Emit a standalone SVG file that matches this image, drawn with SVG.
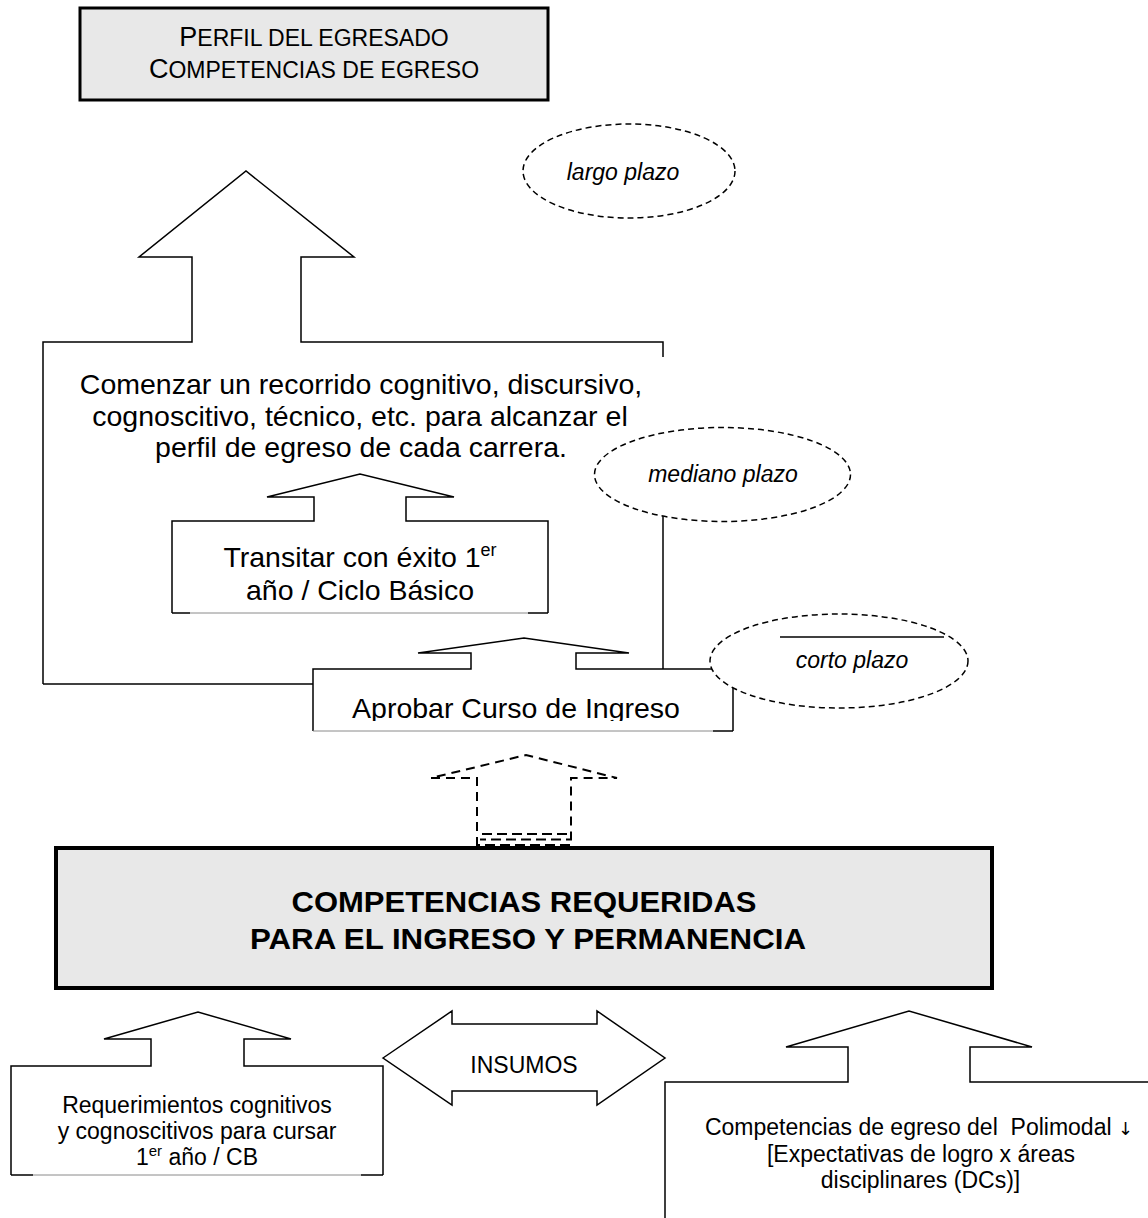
<svg xmlns="http://www.w3.org/2000/svg" width="1148" height="1218" viewBox="0 0 1148 1218">
<style>
text{font-family:"Liberation Sans",Arial,sans-serif;fill:#000}
.s{fill:none;stroke:#000;stroke-width:1.5;stroke-linejoin:miter}
.w{fill:#fff;stroke:#000;stroke-width:1.5}
.d{fill:#fff;stroke:#000;stroke-width:1.5;stroke-dasharray:6 4}
.dl{fill:none;stroke:#000;stroke-width:2;stroke-dasharray:9 6}
.hl{fill:none;stroke:#000;stroke-width:2;stroke-dasharray:10 5}
.lt{fill:none;stroke:#8a8a8a;stroke-width:1}
.g{fill:#e8e8e8;stroke:#000}
.t28{font-size:28.5px;text-anchor:middle}
.t23{font-size:23px;text-anchor:middle}
.it{font-size:23px;font-style:italic;text-anchor:middle}
</style>
<defs>
<clipPath id="clipA"><rect x="313" y="669" width="420" height="52"/></clipPath>
</defs>
<rect width="1148" height="1218" fill="#fff"/>

<g id="perfil">
<rect class="g" x="80" y="8" width="468" height="92" stroke-width="3"/>
<text x="314" y="46" text-anchor="middle"><tspan font-size="27">P</tspan><tspan font-size="23">ERFIL DEL EGRESADO</tspan></text>
<text x="314" y="77.5" text-anchor="middle"><tspan font-size="27">C</tspan><tspan font-size="23">OMPETENCIAS DE EGRESO</tspan></text>
</g>

<g id="largo">
<ellipse class="d" cx="629" cy="171" rx="106" ry="47"/>
<text class="it" x="623" y="180">largo plazo</text>
</g>

<g id="comenzar">
<path class="s" d="M43,684 V342 H192 V257 H139 L246,171 L354,257 H301 V342 H663 V357"/>
<path class="s" d="M43,684 H313"/>
<text class="t28" x="361" y="394">Comenzar un recorrido cognitivo, discursivo,</text>
<text class="t28" x="360" y="426">cognoscitivo, técnico, etc. para alcanzar el</text>
<text class="t28" x="361" y="457">perfil de egreso de cada carrera.</text>
</g>

<g id="transitar">
<path class="s" d="M172,613 V521 H314 V497 H267 L360,474 L454,497 H406 V521 H548 V613"/>
<path class="lt" d="M190,613 H528"/>
<path class="s" d="M172,613 H190 M528,613 H548"/>
<text class="t28" x="360" y="566.5">Transitar con éxito 1<tspan font-size="18" dy="-11">er</tspan></text>
<text class="t28" x="360" y="600">año / Ciclo Básico</text>
</g>

<g id="connectors">
<path class="s" d="M663,516 V669"/>
</g>

<g id="mediano">
<ellipse class="d" cx="722.5" cy="474.5" rx="128" ry="47"/>
<text class="it" x="723" y="482">mediano plazo</text>
</g>

<g id="aprobar">
<path class="s" d="M313,731 V669 H471 V653 H418 L524,638 L629,653 H576 V669 H733 V731"/>
<path class="lt" d="M313,731 H713"/>
<path class="s" d="M713,731 H733"/>
<text class="t28" x="516" y="718" clip-path="url(#clipA)">Aprobar Curso de Ingreso</text>
</g>

<g id="corto">
<ellipse class="d" cx="839" cy="661" rx="129" ry="47"/>
<path class="s" d="M780,637 H944" stroke-width="1"/>
<text class="it" x="852" y="668">corto plazo</text>
</g>

<g id="flecha-punteada">
<path class="dl" d="M477,846 V778 H431 L526,755 L617,778 H571 V846"/>
<path class="hl" d="M482,834 H569"/>
<path class="hl" d="M480,839.5 H570" stroke-dashoffset="4"/>
<path class="hl" d="M478,845 H571" stroke-dashoffset="8"/>
</g>

<g id="competencias">
<rect class="g" x="56" y="848" width="936" height="140" stroke-width="4"/>
<text x="524" y="911.5" font-size="30" font-weight="bold" text-anchor="middle" textLength="465" lengthAdjust="spacingAndGlyphs">COMPETENCIAS REQUERIDAS</text>
<text x="528" y="948.5" font-size="30" font-weight="bold" text-anchor="middle" textLength="556" lengthAdjust="spacingAndGlyphs">PARA EL INGRESO Y PERMANENCIA</text>
</g>

<g id="requerimientos">
<path class="s" d="M11,1175 V1066 H151 V1039 H104 L198,1012 L291,1039 H244 V1066 H383 V1175"/>
<path class="lt" d="M33,1175 H361"/>
<path class="s" d="M11,1175 H33 M361,1175 H383"/>
<text class="t23" x="197" y="1113">Requerimientos cognitivos</text>
<text class="t23" x="197" y="1138.5">y cognoscitivos para cursar</text>
<text class="t23" x="197" y="1165">1<tspan font-size="15" dy="-9">er</tspan><tspan dy="9"> año / CB</tspan></text>
</g>

<g id="insumos">
<polygon class="w" points="383,1058 452,1011 452,1024 597,1024 597,1011 665,1058 597,1105 597,1091 452,1091 452,1105"/>
<text class="t23" x="524" y="1072.5">INSUMOS</text>
</g>

<g id="polimodal">
<path class="s" d="M665,1218 V1082 H848 V1047 H786 L909,1011 L1032,1047 H970 V1082 H1148"/>
<text class="t23" x="919" y="1135">Competencias de egreso del&#160; Polimodal <tspan font-family="DejaVu Sans" font-size="18">↓</tspan></text>
<text class="t23" x="921" y="1161.5">[Expectativas de logro x áreas</text>
<text class="t23" x="920.5" y="1188">disciplinares (DCs)]</text>
</g>
</svg>
